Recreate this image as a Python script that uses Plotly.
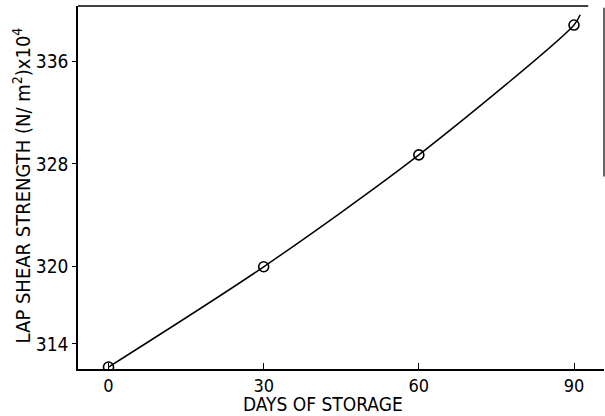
import plotly.graph_objects as go

# Lap shear strength vs. storage time
days = [0, 30, 60, 90]
strength = [312.2, 320.0, 328.7, 338.8]

# smooth fitted curve through the measurements, running slightly past the last one
curve_days = [0, 30, 60, 90, 91.2]
curve_strength = [312.2, 320.0, 328.7, 338.8, 339.6]

x_ticks = [0, 30, 60, 90]
y_ticks = [314, 320, 328, 336]

FONT = "DejaVu Sans Condensed, Liberation Sans Narrow, DejaVu Sans"

fig = go.Figure()
fig.add_trace(go.Scatter(
    x=curve_days, y=curve_strength, mode="lines",
    line=dict(color="black", width=1.5, shape="spline", smoothing=0.8),
    hoverinfo="skip", showlegend=False,
))
fig.add_trace(go.Scatter(
    x=days, y=strength, mode="markers",
    marker=dict(symbol="circle-open", size=10, color="black",
                line=dict(color="black", width=1.6)),
    showlegend=False,
))

fig.update_xaxes(
    range=[-5.9, 95.8], tickvals=x_ticks, ticks="inside", ticklen=6,
    tickwidth=1.3, tickcolor="black", showline=True, linecolor="black",
    linewidth=1.5, showgrid=False, zeroline=False,
    tickfont=dict(family=FONT, size=18, color="black"),
)
fig.update_yaxes(
    range=[312.05, 340.28], tickvals=y_ticks, ticks="outside", ticklen=4,
    tickwidth=1.3, tickcolor="black", showline=True, linecolor="black",
    linewidth=1.5, showgrid=False, zeroline=False,
    tickfont=dict(family=FONT, size=19, color="black"),
)

# top border and the upper part of the right border
fig.add_shape(type="line", xref="paper", yref="paper", x0=0, x1=0.97, y0=1, y1=1,
              line=dict(color="black", width=1.5))
fig.add_shape(type="line", xref="paper", yref="paper", x0=1, x1=1, y0=0.53, y1=0.995,
              line=dict(color="black", width=1.2))

fig.add_annotation(
    text="DAYS OF STORAGE", xref="paper", yref="paper", x=0.466, y=-0.097,
    xanchor="center", yanchor="middle", showarrow=False,
    font=dict(family=FONT, size=19, color="black"),
)
fig.add_annotation(
    text="LAP SHEAR STRENGTH (N/ m<sup>2</sup>)x10<sup>4</sup>",
    xref="paper", yref="paper", x=-0.107, y=0.505, textangle=-90,
    xanchor="center", yanchor="middle", showarrow=False,
    font=dict(family=FONT, size=20, color="black"),
)

fig.update_layout(
    width=605, height=416,
    margin=dict(l=78, r=1, t=6, b=47),
    paper_bgcolor="white", plot_bgcolor="white",
)

fig.write_html("out.html")
